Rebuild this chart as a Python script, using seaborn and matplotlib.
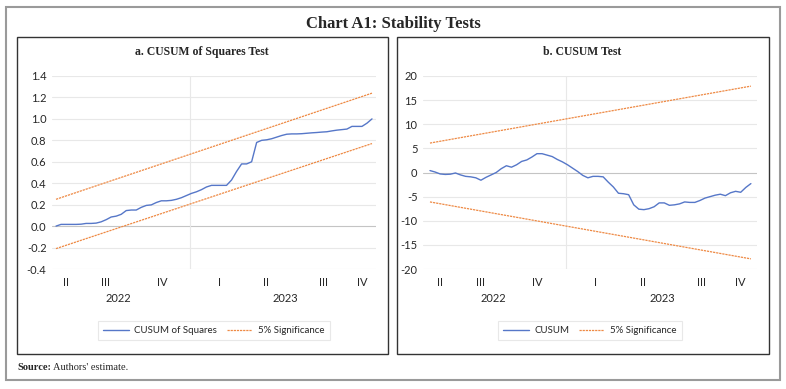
import numpy as np
import pandas as pd
import matplotlib.pyplot as plt
import seaborn as sns
from matplotlib.patches import Rectangle
import matplotlib.transforms as mtrans

# values (one point per period, 64 periods)
cusum_sq = [0.0, 0.016, 0.016, 0.016, 0.016, 0.018, 0.025, 0.025, 0.028, 0.04,
            0.06, 0.085, 0.093, 0.11, 0.145, 0.15, 0.15, 0.175, 0.193, 0.198,
            0.22, 0.236, 0.236, 0.24, 0.25, 0.265, 0.285, 0.305, 0.32, 0.34,
            0.365, 0.38, 0.38, 0.38, 0.38, 0.43, 0.51, 0.58, 0.58, 0.6,
            0.78, 0.80, 0.805, 0.815, 0.83, 0.845, 0.857, 0.86, 0.86, 0.862,
            0.866, 0.87, 0.873, 0.877, 0.88, 0.888, 0.895, 0.9, 0.905, 0.93,
            0.93, 0.93, 0.96, 1.0]
cusum = [0.4, 0.1, -0.3, -0.4, -0.35, -0.1, -0.5, -0.8, -0.9, -1.1,
         -1.6, -1.0, -0.5, 0.0, 0.8, 1.4, 1.1, 1.6, 2.3, 2.6,
         3.2, 3.9, 3.9, 3.6, 3.3, 2.7, 2.2, 1.6, 0.9, 0.2,
         -0.6, -1.1, -0.8, -0.8, -0.9, -2.0, -3.0, -4.3, -4.4, -4.6,
         -6.7, -7.6, -7.7, -7.5, -7.1, -6.3, -6.3, -6.8, -6.7, -6.5,
         -6.1, -6.2, -6.2, -5.8, -5.3, -5.0, -4.7, -4.5, -4.8, -4.2,
         -3.9, -4.1, -3.1, -2.3]
# significance bounds are straight lines: start and end values
sq_upper = [0.25, 1.24]
sq_lower = [-0.21, 0.77]
cs_upper = [6.1, 17.9]
cs_lower = [-6.1, -17.9]

quarters = ['II', 'III', 'IV', 'I', 'II', 'III', 'IV']
quarter_pos = [2, 9.9, 21.1, 32.5, 41.9, 53.3, 61]
years = ['2022', '2023']
year_pos = [12.4, 45.7]
year_break = 26.7

blue = '#5677c8'
orange = '#ee8a45'

sns.set_style('white')
plt.rcParams['font.family'] = ['Lato', 'DejaVu Sans']

fig = plt.figure(figsize=(7.86, 3.89), dpi=100)
W, H = 786, 389

def fbox(x0, y0, x1, y1):
    return [x0 / W, 1 - y1 / H, (x1 - x0) / W, (y1 - y0) / H]

# outer frame and panel frames
fig.patches.append(Rectangle((6 / W, 1 - 380 / H), 774 / W, 373 / H, transform=fig.transFigure,
                             fill=False, edgecolor='#9a9a9a', lw=1.5))
for x0, x1 in [(17, 388), (397, 769)]:
    fig.patches.append(Rectangle((x0 / W, 1 - 354 / H), (x1 - x0) / W, 317 / H,
                                 transform=fig.transFigure, fill=False, edgecolor='#333333', lw=1.0))

fig.text(393 / W, 1 - 24 / H, 'Chart A1: Stability Tests', ha='center', va='center',
         family='Liberation Serif', weight='bold', fontsize=12)
fig.text(17 / W, 1 - 367 / H, 'Source:', ha='left', va='center',
         family='Liberation Serif', weight='bold', fontsize=7.5)
fig.text(53 / W, 1 - 367 / H, "Authors' estimate.", ha='left', va='center',
         family='Liberation Serif', fontsize=7.5)

panels = [
    dict(box=fbox(52, 76, 376, 269), xlim=(-0.8, 63.8), ylim=(-0.4, 1.4),
         yt=np.arange(-0.4, 1.41, 0.2), fmt='{:.1f}', series=cusum_sq,
         up=sq_upper, lo=sq_lower, title='a. CUSUM of Squares Test',
         tx=202, name='CUSUM of Squares'),
    dict(box=fbox(423, 76, 757, 269), xlim=(-1.37, 64.2), ylim=(-20, 20),
         yt=np.arange(-20, 21, 5), fmt='{:.0f}', series=cusum,
         up=cs_upper, lo=cs_lower, title='b. CUSUM Test',
         tx=582, name='CUSUM'),
]

for p in panels:
    ax = fig.add_axes(p['box'])
    n = len(p['series'])
    df = pd.DataFrame({'t': np.arange(n), 'v': p['series']})
    bnd = pd.DataFrame({'t': [0, n - 1], 'up': p['up'], 'lo': p['lo']})
    for y in p['yt']:
        ax.axhline(y, color='#c4c4c4' if abs(y) < 1e-9 else '#e8e8e8', lw=0.8, zorder=0)
    ax.axvline(year_break, color='#e8e8e8', lw=0.8, zorder=0)
    sns.lineplot(data=df, x='t', y='v', ax=ax, color=blue, lw=1.0, label=p['name'])
    sns.lineplot(data=bnd, x='t', y='up', ax=ax, color=orange, lw=0.9,
                 linestyle=(0, (1.8, 0.7)), label='5% Significance')
    sns.lineplot(data=bnd, x='t', y='lo', ax=ax, color=orange, lw=0.9,
                 linestyle=(0, (1.8, 0.7)), label='_nolegend_')
    ax.set_xlim(*p['xlim'])
    ax.set_ylim(*p['ylim'])
    ax.set_yticks(p['yt'])
    ax.set_yticklabels([p['fmt'].format(v + 0.0) for v in p['yt']], fontsize=8)
    ax.set_xticks(quarter_pos)
    ax.set_xticklabels(quarters, fontsize=8)
    ax.tick_params(length=0, pad=6)
    ax.tick_params(axis='y', pad=4)
    ax.set_xlabel('')
    ax.set_ylabel('')
    for s in ax.spines.values():
        s.set_visible(False)
    tr = mtrans.blended_transform_factory(ax.transData, ax.transAxes)
    for yl, xp in zip(years, year_pos):
        ax.text(xp, -0.155, yl, transform=tr, ha='center', va='center', fontsize=8)
    leg = ax.legend(loc='center', bbox_to_anchor=(0.5, -0.32), ncol=2, fontsize=7,
                    frameon=True, handlelength=2.6, columnspacing=1.0,
                    handletextpad=0.6, borderpad=0.5, fancybox=False)
    leg.get_frame().set_edgecolor('#e3e3e3')
    leg.get_frame().set_linewidth(0.8)
    fig.text(p['tx'] / W, 1 - 52 / H, p['title'], ha='center', va='center',
             family='Liberation Serif', weight='bold', fontsize=8.5)

fig.savefig('out.png', dpi=100)
